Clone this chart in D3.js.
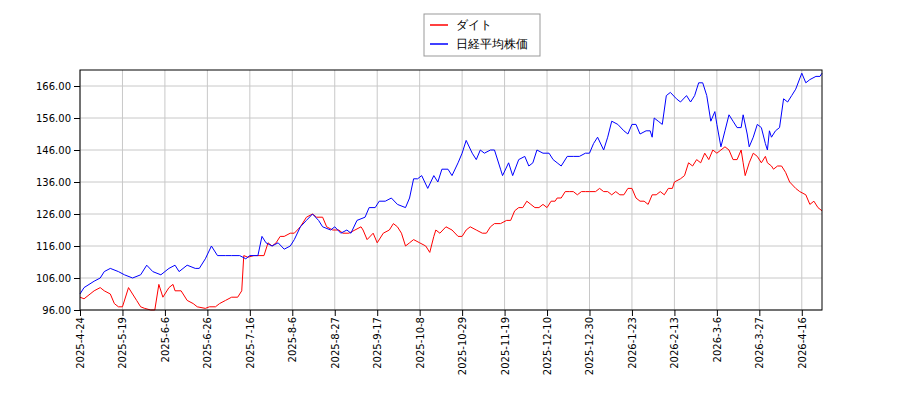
<!DOCTYPE html><html><head><meta charset="utf-8"><script src="https://d3js.org/d3.v7.min.js"></script>
<style>body{margin:0;background:#fff}svg{font-family:"DejaVu Sans",sans-serif}</style></head><body><svg id="c" width="900" height="400"></svg>
<script>
const seriesNames = ["ダイト","日経平均株価"];
const seriesColors = ["#ff0000","#0000ff"];
const yTicks = [96,106,116,126,136,146,156,166];
const xTickLabels = ["2025-4-24","2025-5-19","2025-6-6","2025-6-26","2025-7-16","2025-8-6","2025-8-27","2025-9-17","2025-10-8","2025-10-29","2025-11-19","2025-12-10","2025-12-30","2026-1-23","2026-2-13","2026-3-6","2026-3-27","2026-4-16"];
// [position along the session axis (tick spacing 21), value]
const daitoData = [[0,100],[2,99.5],[5,101],[7,102],[10,103],[12,102],[15,101],[17,98],[19,97],[21,97],[24,103],[26,101],[28,99],[30,97],[32,96.5],[35,96],[37,96],[39,104],[41,100],[44,103],[46,104],[47,102],[50,102],[53,99],[56,98],[58,97],[62,96.5],[64,97],[67,97],[69,98],[72,99],[75,100],[78,100],[80,102],[81,113],[83,112.5],[86,113],[89,113],[91,113],[93,117],[95,116],[97,117],[99,119],[101,119],[104,120],[106,120],[109,122],[112,125],[115,126],[117,125],[120,125],[122,122],[125,121],[128,121],[130,120],[133,120],[136,121],[139,122],[140,121],[142,118],[145,120],[147,117],[150,120],[153,121],[155,123],[157,122],[159,120],[161,116],[163,117],[165,118],[168,117],[171,116],[173,114],[175,119],[176,121],[178,120],[181,122],[184,121],[187,119],[189,119],[191,121],[193,122],[196,121],[199,120],[201,120],[203,122],[205,123],[208,123],[211,124],[213,124],[215,127],[217,128],[219,128],[221,130],[223,129],[225,128],[227,128],[229,129],[231,128],[233,130],[235,130],[236,131],[238,131],[240,133],[242,133],[244,133],[246,132],[248,133],[250,133],[252,133],[255,133],[257,134],[259,133],[261,133],[263,132],[265,133],[267,132],[269,132],[271,134],[273,134],[275,131],[277,130],[279,130],[281,129],[283,132],[285,132],[287,133],[289,132],[291,134],[293,134],[294,136],[297,137],[299,138],[301,142],[303,141],[305,143],[307,142],[309,145],[311,143],[313,146],[315,145],[317,146],[319,147],[321,146],[323,143],[325,143],[327,146],[328,142],[329,138],[331,142],[333,145],[335,144],[337,142],[339,144],[340,142],[342,141],[343,140],[345,141],[347,141],[349,139],[351,136],[354,134],[356,133],[359,132],[361,129],[363,130],[365,128],[367,127]];
const nikkeiData = [[0,101],[2,103],[7,105],[10,106],[12,108],[15,109],[19,108],[22,107],[26,106],[30,107],[33,110],[36,108],[40,107],[44,109],[47,110],[49,108],[53,110],[57,109],[59,109],[62,112],[65,116],[68,113],[72,113],[75,113],[79,113],[82,112],[84,113],[88,113],[90,119],[92,117],[95,116],[98,117],[101,115],[104,116],[106,118],[109,122],[112,124],[115,126],[118,124],[120,122],[124,121],[126,122],[129,120],[132,121],[134,120],[137,124],[141,125],[143,128],[146,128],[148,130],[151,130],[154,131],[157,129],[161,128],[163,131],[165,137],[167,137],[169,138],[172,134],[175,138],[177,136],[179,140],[182,140],[184,138],[187,142],[189,145],[191,149],[194,145],[196,143],[198,146],[200,145],[203,146],[205,146],[208,140],[209,138],[212,142],[214,138],[217,143],[220,144],[222,141],[224,142],[226,146],[229,145],[232,145],[234,143],[236,142],[238,141],[241,144],[244,144],[247,144],[250,145],[252,145],[254,148],[256,150],[259,146],[261,150],[263,155],[266,154],[269,152],[271,151],[273,154],[275,154],[277,151],[280,152],[282,152],[283,150],[284,156],[286,155],[288,154],[290,163],[292,164],[295,162],[297,161],[300,163],[302,161],[304,163],[306,167],[308,167],[310,163],[312,155],[314,158],[315,154],[317,147],[319,152],[321,157],[323,155],[325,153],[327,153],[328,157],[330,151],[331,147],[333,150],[335,154],[337,153],[339,148],[340,146],[341,152],[342,150],[344,152],[346,153],[348,162],[350,161],[352,163],[354,165],[357,170],[359,167],[361,168],[364,169],[366,169],[367,170]];

const svg = d3.select("#c");
const m = {l:80,r:78,t:70,b:90};
const W = 900-m.l-m.r, H = 400-m.t-m.b;
const x = d3.scaleLinear().domain([0, 367]).range([m.l, m.l+W]);
const y = d3.scaleLinear().domain([96, 171]).range([m.t+H, m.t]);
const g = svg.append("g");
const xt = xTickLabels.map((_,i)=>i*21);
g.selectAll(".gx").data(xt).join("line").attr("x1",d=>x(d)).attr("x2",d=>x(d)).attr("y1",m.t).attr("y2",m.t+H).attr("stroke","#c8c8c8");
g.selectAll(".gy").data(yTicks).join("line").attr("x1",m.l).attr("x2",m.l+W).attr("y1",d=>y(d)).attr("y2",d=>y(d)).attr("stroke","#c8c8c8");
const line = d3.line().x(d=>x(d[0])).y(d=>y(d[1]));
[daitoData, nikkeiData].forEach((s,i)=>{
  g.append("path").datum(s).attr("d",line).attr("fill","none").attr("stroke",seriesColors[i]).attr("stroke-width",1);
});
svg.append("rect").attr("x",m.l).attr("y",m.t).attr("width",W).attr("height",H).attr("fill","none").attr("stroke","#000");
const xa = svg.append("g").attr("transform",`translate(0,${m.t+H})`).call(d3.axisBottom(x).tickValues(xt).tickFormat((d,i)=>xTickLabels[i]).tickSizeOuter(0));
xa.selectAll("text").attr("transform","rotate(-90)").attr("text-anchor","end").attr("x",-7).attr("y",0).attr("dy","0.35em").style("font-size","10px").style("font-family","DejaVu Sans");
xa.select(".domain").remove();
const ya = svg.append("g").attr("transform",`translate(${m.l},0)`).call(d3.axisLeft(y).tickValues(yTicks).tickFormat(d3.format(".2f")).tickSizeOuter(0));
ya.selectAll("text").style("font-size","10px").style("font-family","DejaVu Sans");
ya.select(".domain").remove();
const lg = svg.append("g").attr("transform","translate(424,14)");
lg.append("rect").attr("width",116).attr("height",42).attr("fill","#fff").attr("stroke","#999");
seriesNames.forEach((n,i)=>{
  lg.append("line").attr("x1",6).attr("x2",24).attr("y1",11+i*19).attr("y2",11+i*19).attr("stroke",seriesColors[i]).attr("stroke-width",1.5);
  lg.append("text").attr("x",32).attr("y",11+i*19).attr("dy","0.35em").style("font-size","12px").text(n);
});
</script></body></html>
